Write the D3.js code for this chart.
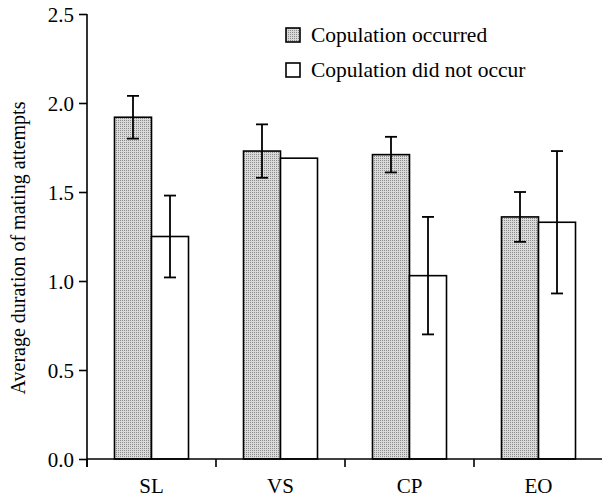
<!DOCTYPE html>
<html><head><meta charset="utf-8">
<script src="https://cdn.jsdelivr.net/npm/d3@7"></script>
<style>body{margin:0;background:#fff}svg{display:block}text{font-family:"Liberation Serif","Times New Roman",serif;fill:#000}</style>
</head><body><svg id="c" width="602" height="498"></svg>
<script>
const categories = ["SL","VS","CP","EO"];
const seriesNames = ["Copulation occurred","Copulation did not occur"];
const occurred = [1.92,1.73,1.71,1.36];
const occurredLow = [1.80,1.58,1.61,1.22];
const occurredHigh = [2.04,1.88,1.81,1.50];
const notOccurred = [1.25,1.69,1.03,1.33];
const notOccurredLow = [1.02,null,0.70,0.93];
const notOccurredHigh = [1.48,null,1.36,1.73];
const yTicks = [0,0.5,1.0,1.5,2.0,2.5];
const yTitle = "Average duration of mating attempts";

const svg = d3.select("#c");
const defs = svg.append("defs");
const pat = defs.append("pattern").attr("id","dots").attr("width",2).attr("height",2).attr("patternUnits","userSpaceOnUse");
pat.append("rect").attr("width",2).attr("height",2).attr("fill","#dadada");
pat.append("rect").attr("width",1).attr("height",1).attr("fill","#8a8a8a");

const mLeft = 87, mBottom = 459, mTop = 14;
const x = d3.scaleBand().domain(categories).range([mLeft, mLeft + 4*129]).padding(0);
const xs = d3.scaleBand().domain(["occ","not"]).range([0, x.bandwidth()]).paddingInner(0).paddingOuter(0.743);
const y = d3.scaleLinear().domain([0,2.5]).range([mBottom, mTop]);

const data = [];
categories.forEach((c,i)=>{
  data.push({c, s:"occ", v:occurred[i], lo:occurredLow[i], hi:occurredHigh[i]});
  data.push({c, s:"not", v:notOccurred[i], lo:notOccurredLow[i], hi:notOccurredHigh[i]});
});

const g = svg.append("g");
g.selectAll("rect.bar").data(data).join("rect").attr("class","bar")
  .attr("x", d=>x(d.c)+xs(d.s)).attr("width", xs.bandwidth())
  .attr("y", d=>y(d.v)).attr("height", d=>y(0)-y(d.v))
  .attr("fill", d=>d.s==="occ"?"url(#dots)":"#fff")
  .attr("stroke","#000").attr("stroke-width",1.6);

const eb = data.filter(d=>d.lo!=null);
const cx = d=>x(d.c)+xs(d.s)+xs.bandwidth()/2;
g.selectAll("line.err").data(eb).join("line").attr("class","err").attr("x1",cx).attr("x2",cx)
  .attr("y1",d=>y(d.lo)).attr("y2",d=>y(d.hi)).attr("stroke","#000").attr("stroke-width",1.8);
["lo","hi"].forEach(k=>{
  g.selectAll("line.cap"+k).data(eb).join("line").attr("class","cap"+k).attr("x1",d=>cx(d)-6).attr("x2",d=>cx(d)+6)
    .attr("y1",d=>y(d[k])).attr("y2",d=>y(d[k])).attr("stroke","#000").attr("stroke-width",1.8);
});

// y axis
const ya = svg.append("g").attr("transform",`translate(${mLeft},0)`)
  .call(d3.axisLeft(y).tickValues(yTicks).tickFormat(d3.format(".1f")).tickSize(8).tickSizeOuter(0));
ya.select(".domain").remove();
ya.append("line").attr("x1",0).attr("x2",0).attr("y1",mTop).attr("y2",mBottom+8).attr("stroke","#000").attr("stroke-width",1.6);
ya.selectAll(".tick line").attr("stroke","#000").attr("stroke-width",1.6);
ya.selectAll(".tick text").attr("font-size",21).attr("x",-13).attr("dy","0.34em").style("font-family","Liberation Serif");

// x axis
const xa = svg.append("g").attr("transform",`translate(0,${mBottom})`);
xa.append("line").attr("x1",mLeft).attr("x2",602).attr("y1",0).attr("y2",0).attr("stroke","#000").attr("stroke-width",1.6);
xa.selectAll("line.t").data(categories).join("line").attr("class","t").attr("x1",d=>x(d)).attr("x2",d=>x(d)).attr("y1",0).attr("y2",8).attr("stroke","#000").attr("stroke-width",1.6);
xa.selectAll("text.lab").data(categories).join("text").attr("class","lab").attr("x",d=>x(d)+x.bandwidth()/2).attr("y",34)
  .attr("text-anchor","middle").attr("font-size",21).text(d=>d);

svg.append("text").attr("transform",`translate(25,248) rotate(-90)`).attr("text-anchor","middle")
  .attr("font-size",20).text(yTitle);

// legend
const lg = svg.append("g").attr("transform","translate(286,28)");
seriesNames.forEach((n,i)=>{
  lg.append("rect").attr("x",0).attr("y",i*35).attr("width",14).attr("height",14)
    .attr("fill",i===0?"url(#dots)":"#fff").attr("stroke","#000").attr("stroke-width",1.6);
  lg.append("text").attr("x",25).attr("y",i*35+14).attr("font-size",21.5).text(n);
});
</script></body></html>
